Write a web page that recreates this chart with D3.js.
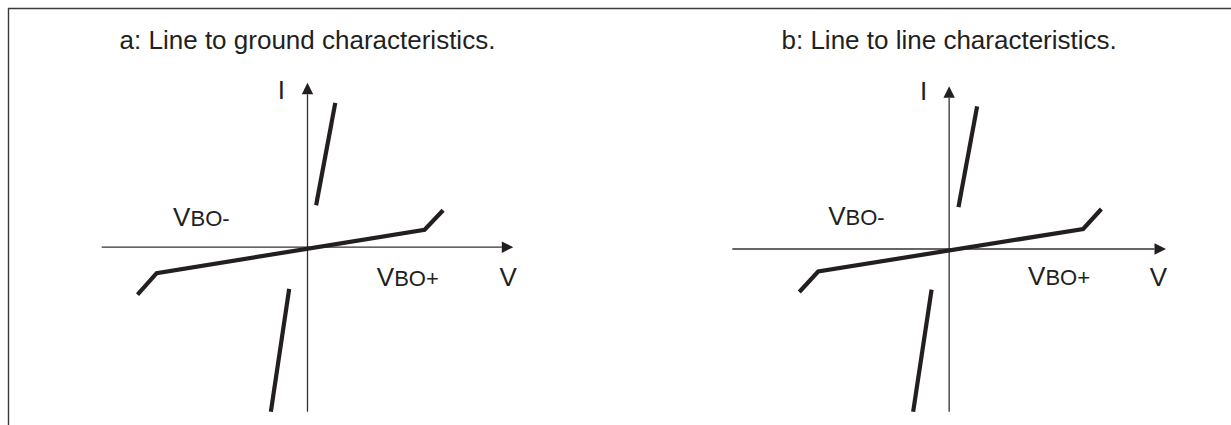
<!DOCTYPE html>
<html>
<head>
<meta charset="utf-8">
<script src="https://cdn.jsdelivr.net/npm/d3@7"></script>
<style>
  body { margin: 0; background: #fff; }
  svg { display: block; }
  text { font-family: "Liberation Sans", Arial, sans-serif; fill: #231f20; }
  .title { font-size: 26px; }
  .lbl { font-size: 26px; }
  .sub { font-size: 22px; }
  .axis-line { stroke: #333; stroke-width: 1.3; }
  .curve { fill: none; stroke: #231f20; stroke-width: 4.2; stroke-linejoin: miter; }
</style>
</head>
<body>
<div id="chart"></div>
<script>
// panel titles
const titles = ["a: Line to ground characteristics.", "b: Line to line characteristics."];

// axis domain (both axes run -10 .. 10 in drawing units)
const axisDomain = [-10, 10];

// characteristic curves, [V, I] in drawing units
const groundMain  = [[-8.26, -2.88], [-7.33, -1.58], [5.69, 1.06], [6.59, 2.25]];
const groundUpper = [[0.42, 2.55], [1.35, 8.77]];
const groundLower = [[-0.89, -2.53], [-1.78, -10]];

const lineMain  = [[-6.91, -2.64], [-6.04, -1.38], [6.18, 1.23], [7.02, 2.46]];
const lineUpper = [[0.43, 2.58], [1.29, 8.77]];
const lineLower = [[-0.81, -2.5], [-1.66, -10]];

// labels: text, sub text, anchor [V, I]
const groundLabels = [["I", "", [-1.44, 8.98]], ["V", "BO-", [-6.53, 1.31]], ["V", "BO+", [3.37, -2.35]], ["V", "", [9.33, -2.37]]];
const lineLabels   = [["I", "", [-1.34, 9.14]], ["V", "BO-", [-5.58, 1.49]], ["V", "BO+", [3.64, -2.2]], ["V", "", [9.25, -2.26]]];

const width = 1231, height = 425;

const svg = d3.select("#chart").append("svg")
    .attr("width", width)
    .attr("height", height);

// frame: top and left edges
svg.append("path")
    .attr("d", `M8.5,${height} V8.5 H${width}`)
    .attr("fill", "none")
    .attr("stroke", "#3a3a3a")
    .attr("stroke-width", 1.4);

const panels = [
    { title: titles[0], xr: [101.7, 513.3], yr: [411.7, 82.7], curves: [groundMain, groundUpper, groundLower], labels: groundLabels },
    { title: titles[1], xr: [732.3, 1166], yr: [411.7, 86.3], curves: [lineMain, lineUpper, lineLower], labels: lineLabels }
];

const head = 11.5, half = 5.7;

panels.forEach(function(p) {
    const x = d3.scaleLinear().domain(axisDomain).range(p.xr);
    const y = d3.scaleLinear().domain(axisDomain).range(p.yr);
    const g = svg.append("g");

    g.append("text")
        .attr("class", "title")
        .attr("x", x(0))
        .attr("y", 48.5)
        .attr("text-anchor", "middle")
        .text(p.title);

    // V axis
    g.append("line").attr("class", "axis-line")
        .attr("x1", x(-10)).attr("x2", x(10) - head)
        .attr("y1", y(0)).attr("y2", y(0));
    g.append("path")
        .attr("d", `M${x(10)},${y(0)} L${x(10) - head},${y(0) - half} L${x(10) - head},${y(0) + half} Z`)
        .attr("fill", "#231f20");

    // I axis
    g.append("line").attr("class", "axis-line")
        .attr("x1", x(0)).attr("x2", x(0))
        .attr("y1", y(-10)).attr("y2", y(10) + head);
    g.append("path")
        .attr("d", `M${x(0)},${y(10)} L${x(0) - half},${y(10) + head} L${x(0) + half},${y(10) + head} Z`)
        .attr("fill", "#231f20");

    const line = d3.line().x(d => x(d[0])).y(d => y(d[1]));
    g.selectAll("path.curve").data(p.curves)
        .enter().append("path")
        .attr("class", "curve")
        .attr("d", line);

    p.labels.forEach(function(l) {
        const t = g.append("text")
            .attr("class", "lbl")
            .attr("x", x(l[2][0]))
            .attr("y", y(l[2][1]));
        t.append("tspan").text(l[0]);
        if (l[1]) t.append("tspan").attr("class", "sub").text(l[1]);
    });
});
</script>
</body>
</html>
